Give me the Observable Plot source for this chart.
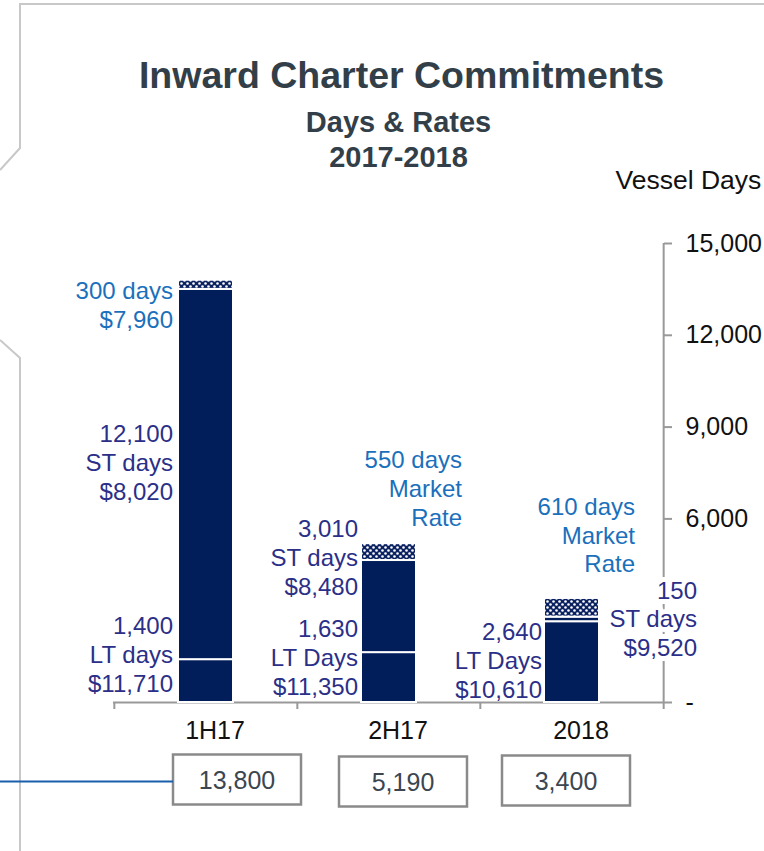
<!DOCTYPE html>
<html>
<head>
<meta charset="utf-8">
<script src="https://cdn.jsdelivr.net/npm/d3@7"></script>
<script src="https://cdn.jsdelivr.net/npm/@observablehq/plot@0.6"></script>
<style>
  html, body { margin: 0; padding: 0; background: #fff; }
  #wrap { position: relative; width: 764px; height: 851px; overflow: hidden; }
  svg { font-family: "Liberation Sans", Arial, sans-serif; }
</style>
</head>
<body>
<svg width="0" height="0" style="position:absolute">
  <defs>
    <pattern id="hatch" width="6" height="6" patternUnits="userSpaceOnUse">
      <rect width="6" height="6" fill="#0b2160"></rect>
      <circle cx="1.5" cy="1.5" r="1.3" fill="#ffffff"></circle>
      <circle cx="4.5" cy="4.5" r="1.3" fill="#ffffff"></circle>
    </pattern>
  </defs>
</svg>
<div id="wrap"></div>
<script>
// ---------- data ----------
const categories = ["1H17", "2H17", "2018"];
const ltDays = [1400, 1630, 2640];
const stDays = [12100, 3010, 150];
const marketDays = [300, 550, 610];
const ltRates = ["$11,710", "$11,350", "$10,610"];
const stRates = ["$8,020", "$8,480", "$9,520"];
const marketRates = ["$7,960", "Market Rate", "Market Rate"];
const ltWords = ["LT days", "LT Days", "LT Days"];
const totals = [13800, 5190, 3400];
const yTicks = [0, 6000, 9000, 12000, 15000]; // 3,000 is hidden behind a label in the original

// ---------- styling ----------
const navy = "#011e5b";
const blue = "#1b70bb";
const indigo = "#2b2f88";
const axisGray = "#999999";
const fmt = d3.format(",");
const font = "Liberation Sans, Arial, sans-serif";
const step = (663 - 113) / 3;

const rows = categories.flatMap((c, i) => [
  {cat: c, seg: "LT", days: ltDays[i]},
  {cat: c, seg: "ST", days: stDays[i]},
  {cat: c, seg: "Market", days: marketDays[i]}
]);

// label placements (offsets in px, anchors derived from data)
const labelSpecs = categories.flatMap((c, i) => {
  const lt = ltDays[i], st = stDays[i], mk = marketDays[i];
  const total = lt + st + mk;
  const mkText = i === 0
    ? `${fmt(mk)} days\n${marketRates[i]}`
    : `${fmt(mk)} days\n${marketRates[i].replace(" ", "\n")}`;
  const stText = `${fmt(st)}\nST days\n${stRates[i]}`;
  const ltText = `${fmt(lt)}\n${ltWords[i]}\n${ltRates[i]}`;
  const place = [
    {mk: [-33, total, 24], st: [-33, lt + st / 2, -13], lt: [-33, 0, -49]},
    {mk: [73, total, -56], st: [-31, lt + st, -4], lt: [-31, 0, -46]},
    {mk: [63, total, -64], st: [125, lt + st, 1], lt: [-30, 0, -43]}
  ][i];
  return [
    {cat: c, text: mkText, dx: place.mk[0], y: place.mk[1], dy: place.mk[2], fill: blue, halo: false},
    {cat: c, text: stText, dx: place.st[0], y: place.st[1], dy: place.st[2], fill: indigo, halo: i === 2},
    {cat: c, text: ltText, dx: place.lt[0], y: place.lt[1], dy: place.lt[2], fill: indigo, halo: false}
  ];
});

const totalSpecs = categories.map((c, i) => ({
  cat: c, text: fmt(totals[i]), dx: [31, 14, -6][i], dy: [78, 80, 79][i]
}));

const chart = Plot.plot({
  width: 764,
  height: 851,
  marginTop: 243,
  marginBottom: 149,
  marginLeft: 113,
  marginRight: 101,
  style: {fontFamily: font, fontSize: "24px", background: "none", overflow: "visible"},
  x: {domain: categories, paddingInner: 0.7, paddingOuter: 0.35, axis: null},
  y: {domain: [0, 15000], axis: null},
  marks: [
    // baseline and category separators
    Plot.ruleY([0], {stroke: axisGray, strokeWidth: 2}),
    Plot.ruleX(categories, {x: d => d, y1: 0, y2: 0, insetBottom: -7, dx: -step / 2, stroke: axisGray, strokeWidth: 2}),
    Plot.ruleX([categories[2]], {x: d => d, y1: 0, y2: 15000, dx: step / 2, stroke: axisGray, strokeWidth: 2}),
    Plot.ruleX([categories[2]], {x: d => d, y1: 0, y2: 0, insetBottom: -7, dx: step / 2, stroke: axisGray, strokeWidth: 2}),
    // right axis
    Plot.axisY({anchor: "right", ticks: yTicks, tickSize: 8, tickPadding: 14,
      tickFormat: d => d === 0 ? "-" : fmt(d), stroke: axisGray, strokeWidth: 2,
      fill: "#111", fontSize: 25, label: null}),
    // x axis labels
    Plot.axisX({anchor: "bottom", tickSize: 0, tickPadding: 19, dx: 9,
      fill: "#111", fontSize: 25, label: null}),
    // bars
    Plot.barY(rows, {x: "cat", y: "days",
      fill: d => d.seg === "Market" ? "url(#hatch)" : navy,
      stroke: "white", strokeWidth: 2}),
    // segment labels
    ...labelSpecs.map(s => Plot.text([s], {
      x: "cat", y: "y", text: "text", dx: s.dx, dy: s.dy,
      textAnchor: "end", lineAnchor: "middle", lineHeight: 1.2,
      fontSize: 24, fill: s.fill,
      ...(s.halo ? {stroke: "white", strokeWidth: 10} : {})
    })),
    // totals in boxes
    ...totalSpecs.map(s => Plot.text([s], {
      x: "cat", y: () => 0, text: "text", dx: s.dx, dy: s.dy,
      lineAnchor: "middle", fontSize: 25, fill: "#3b4650"
    })),
    // titles
    Plot.text(["Inward Charter Commitments"], {frameAnchor: "top", dx: 13, dy: -168,
      lineAnchor: "middle", fontSize: 37.5, fontWeight: "bold", fill: "#333f48"}),
    Plot.text(["Days & Rates\n2017-2018"], {frameAnchor: "top", dx: 10, dy: -105,
      lineAnchor: "middle", lineHeight: 1.18, fontSize: 29, fontWeight: "bold", fill: "#333f48"}),
    Plot.text(["Vessel Days"], {frameAnchor: "top-right", dx: -48, dy: -63,
      textAnchor: "start", lineAnchor: "middle", fontSize: 26.5, fill: "#111"})
  ]
});

const wrap = document.getElementById("wrap");
wrap.appendChild(chart);

// decorative frame, boxes and connector
const svg = d3.select(chart);
const deco = svg.insert("g", ":first-child").attr("fill", "none");
deco.append("polyline").attr("points", "0,170 20,148 20,4 764,4")
  .attr("stroke", "#c8c8c8").attr("stroke-width", 2);
deco.append("polyline").attr("points", "0,340 20,358 20,851")
  .attr("stroke", "#c8c8c8").attr("stroke-width", 2);

const totalStrings = totalSpecs.map(s => s.text);
const boxes = [];
svg.selectAll("text").each(function () {
  if (totalStrings.includes(this.textContent)) {
    const b = this.getBBox();
    const ctm = this.getCTM();
    const cx = b.x + b.width / 2 + (ctm ? ctm.e : 0);
    const cy = b.y + b.height / 2 + (ctm ? ctm.f : 0);
    boxes.push({cx, cy});
  }
});
boxes.sort((a, b) => a.cx - b.cx);
boxes.forEach(bx => {
  deco.append("rect").attr("x", bx.cx - 64).attr("y", bx.cy - 25)
    .attr("width", 128).attr("height", 50)
    .attr("fill", "white").attr("stroke", "#8a8a8a").attr("stroke-width", 2.5);
});
if (boxes.length) {
  deco.append("line").attr("x1", 0).attr("x2", boxes[0].cx - 64)
    .attr("y1", boxes[0].cy + 2).attr("y2", boxes[0].cy + 2)
    .attr("stroke", "#1a5fab").attr("stroke-width", 2);
}
</script>
</body>
</html>
